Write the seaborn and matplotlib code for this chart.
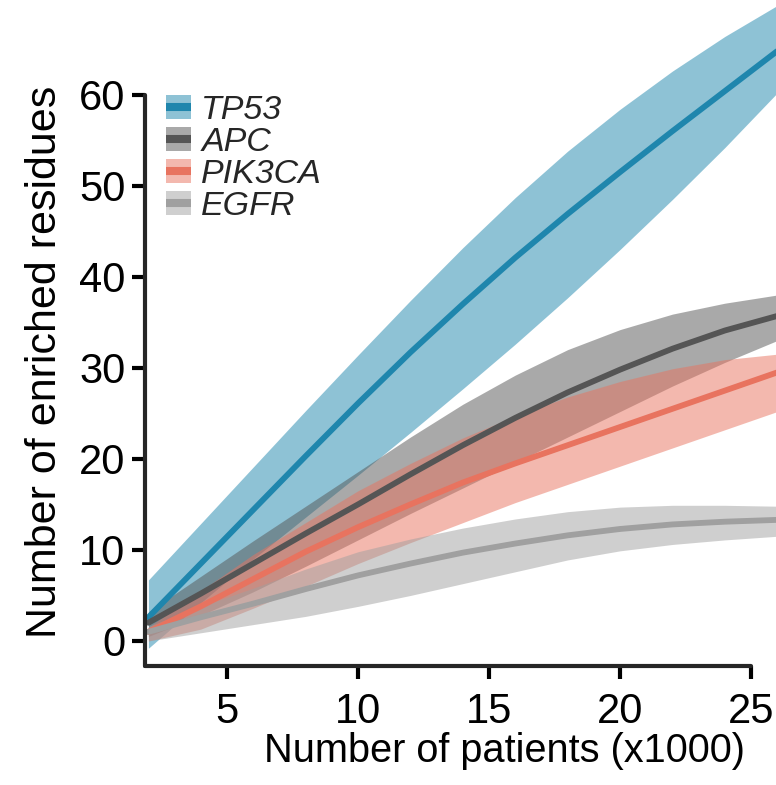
import numpy as np
import pandas as pd
import matplotlib
matplotlib.use("Agg")
import matplotlib.pyplot as plt
import seaborn as sns
from matplotlib.patches import Patch
from matplotlib.lines import Line2D
from matplotlib.legend_handler import HandlerTuple

# patients (x1000)
patients = [2, 4, 6, 8, 10, 12, 14, 16, 18, 20, 22, 24, 26]

tp53_mid = [2.6, 8.5, 14.4, 20.3, 26.1, 31.7, 37, 42.1, 46.9, 51.5, 56, 60.4, 64.8]
tp53_hi = [6.7, 12.9, 19.1, 25.3, 31.4, 37.4, 43.2, 48.7, 53.8, 58.4, 62.6, 66.4, 69.8]
tp53_lo = [-0.8, 4.2, 9, 13.6, 18.2, 22.9, 27.7, 32.6, 37.7, 43, 48.5, 54.2, 60.2]

apc_mid = [2, 5.2, 8.5, 11.8, 15, 18.3, 21.5, 24.5, 27.3, 29.8, 32.1, 34.1, 35.7]
apc_hi = [3.2, 7.1, 11, 14.8, 18.6, 22.4, 26, 29.2, 32, 34.2, 35.9, 37.1, 38]
apc_lo = [0.5, 2.8, 5.4, 8.2, 11.1, 14, 16.8, 19.6, 22.4, 25.2, 28, 30.6, 33]

pik3ca_mid = [1, 3.8, 6.8, 9.8, 12.5, 15, 17.4, 19.5, 21.5, 23.5, 25.5, 27.5, 29.5]
pik3ca_hi = [1.5, 5.5, 9.5, 13, 16.5, 19.5, 22.3, 24.7, 26.8, 28.5, 29.9, 30.9, 31.5]
pik3ca_lo = [0, 1.3, 3.6, 6, 8.5, 10.8, 13, 15.2, 17.2, 19.2, 21.2, 23.2, 25.2]

egfr_mid = [1, 2.6, 4.1, 5.7, 7.2, 8.5, 9.7, 10.7, 11.6, 12.3, 12.8, 13.1, 13.3]
egfr_hi = [1.6, 3.8, 5.8, 7.9, 9.8, 11.2, 12.4, 13.4, 14.2, 14.7, 14.9, 14.9, 14.8]
egfr_lo = [0, 0.9, 1.8, 2.7, 3.8, 5, 6.3, 7.6, 8.9, 9.9, 10.6, 11.1, 11.5]

genes = ["TP53", "APC", "PIK3CA", "EGFR"]
colors = {"TP53": "#1f86ad", "APC": "#555555", "PIK3CA": "#e8735f", "EGFR": "#a0a0a0"}

series = {
    "TP53": (tp53_mid, tp53_lo, tp53_hi),
    "APC": (apc_mid, apc_lo, apc_hi),
    "PIK3CA": (pik3ca_mid, pik3ca_lo, pik3ca_hi),
    "EGFR": (egfr_mid, egfr_lo, egfr_hi),
}

sns.set_style("ticks")
plt.rcParams["font.family"] = ["Liberation Sans", "DejaVu Sans"]

fig = plt.figure(figsize=(7.76, 7.85), dpi=100)
ax = fig.add_axes([145 / 776, 119 / 785, 631 / 776, 666 / 785])

# band first, then the median line, gene by gene
for g in genes:
    mid, lo, hi = series[g]
    ax.fill_between(patients, lo, hi, color=colors[g], alpha=0.5, lw=0)
    df = pd.DataFrame({"x": patients, "y": mid})
    sns.lineplot(data=df, x="x", y="y", color=colors[g], lw=4.2, ax=ax)

ax.set_xlim(1.87, 25.95)
ax.set_ylim(-2.75, 70.4)
ax.set_xticks([5, 10, 15, 20, 25])
ax.set_yticks([0, 10, 20, 30, 40, 50, 60])
ax.spines["right"].set_visible(False)
ax.spines["top"].set_visible(False)
ax.spines["left"].set_bounds(-2.75, 60)
ax.spines["bottom"].set_bounds(1.87, 25)
for s in ["left", "bottom"]:
    ax.spines[s].set_linewidth(3)
    ax.spines[s].set_capstyle("round")
ax.tick_params(width=3, length=9.5, labelsize=30, color="black", labelcolor="black")
ax.tick_params(axis="y", pad=4.5)
ax.tick_params(axis="x", pad=9)
ax.set_xlabel("Number of patients (x1000)", fontsize=28.6, color="black")
ax.set_ylabel("Number of enriched residues", fontsize=31, color="black")
ax.xaxis.set_label_coords(0.57, -0.144)
ax.xaxis.label.set_va("baseline")
ax.yaxis.set_label_coords(-0.127, 0.456)

handles = []
for g in genes:
    handles.append((Patch(facecolor=colors[g], alpha=0.5, lw=0),
                    Line2D([], [], color=colors[g], lw=5.8, solid_capstyle="butt")))
leg = ax.legend(handles, genes, handler_map={tuple: HandlerTuple(ndivide=1)},
                loc="upper left", bbox_to_anchor=(0.033, 0.857), frameon=False,
                borderpad=0, borderaxespad=0, handlelength=0.74, handleheight=0.7,
                handletextpad=0.3, labelspacing=0.03,
                prop={"size": 24.5, "style": "italic"})

fig.savefig("out.png", dpi=100)
